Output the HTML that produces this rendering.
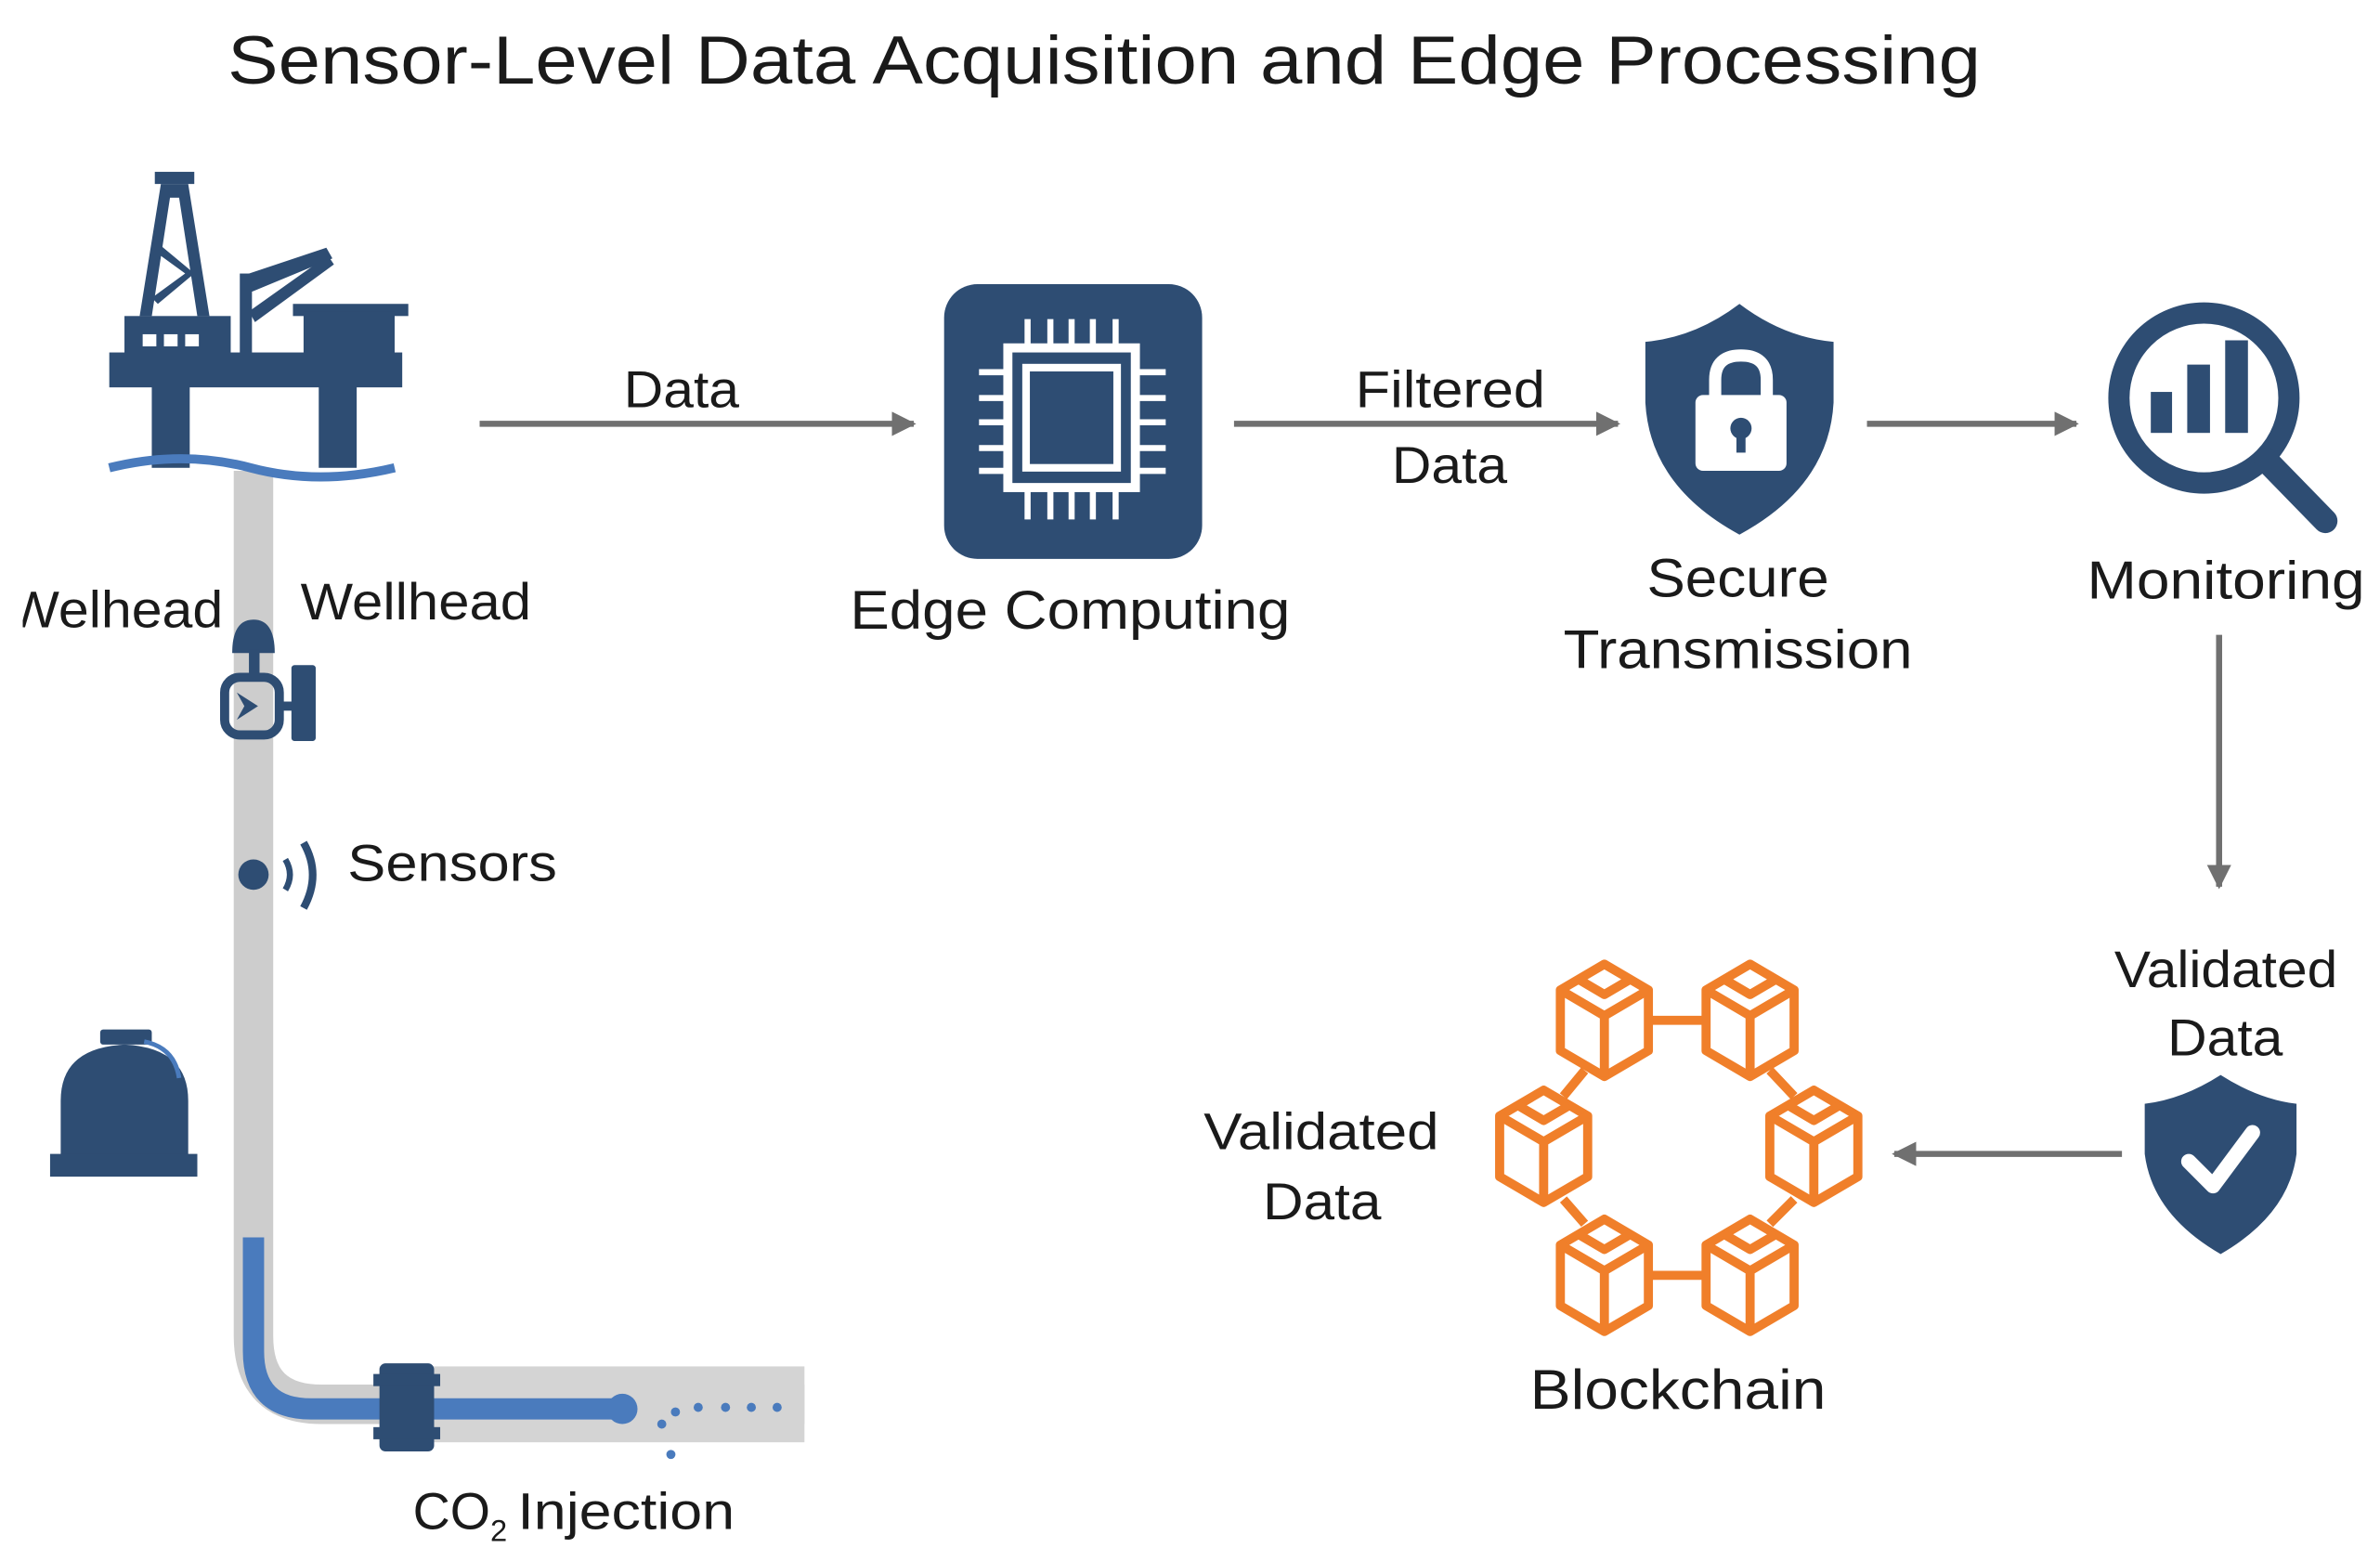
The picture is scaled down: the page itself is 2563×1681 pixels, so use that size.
<!DOCTYPE html>
<html><head><meta charset="utf-8"><style>
html,body{margin:0;padding:0;background:#fff;}
svg{display:block;}
text{font-family:"Liberation Sans",sans-serif;fill:#1a1a1a;}
</style></head><body>
<svg width="2563" height="1681" viewBox="0 0 1568 1028" xmlns="http://www.w3.org/2000/svg">
<defs>
<marker id="ah" viewBox="0 0 10 10" refX="9" refY="5" markerWidth="4" markerHeight="4" orient="auto"><path d="M0,0 L10,5 L0,10 Z" fill="#707070"/></marker>
<g id="cube" fill="none" stroke="#f07f2a" stroke-width="6" stroke-linejoin="round">
<path d="M0,-37 L29,-20 L29,20 L0,37 L-29,20 L-29,-20 Z"/>
<path d="M-29,-20 L0,-3 L29,-20 M0,-3 L0,37 M-17,-27 L0,-17 L17,-27"/>
</g>
<clipPath id="cl"><rect x="15" y="350" width="200" height="100"/></clipPath>
</defs>
<rect width="1568" height="1028" fill="#fff"/>
<text x="150" y="55" font-size="45" textLength="1155" lengthAdjust="spacingAndGlyphs">Sensor-Level Data Acquisition and Edge Processing</text>

<!-- pipe -->
<path d="M167,310 L167,880 Q167,925 212,925 L530,925" fill="none" stroke="#cdcdcd" stroke-width="26"/>
<rect x="250" y="900" width="280" height="50" fill="#d4d4d4"/>
<path d="M167,815 L167,890 Q167,928 205,928 L410,928" fill="none" stroke="#4a7bbd" stroke-width="14"/>
<circle cx="410" cy="928" r="10" fill="#4a7bbd"/>
<rect x="250" y="898" width="36" height="58" rx="4" fill="#2e4d73"/>
<rect x="246" y="905" width="44" height="8" fill="#2e4d73"/><rect x="246" y="940" width="44" height="8" fill="#2e4d73"/>
<g fill="#4a7bbd"><circle cx="460" cy="927" r="3"/><circle cx="478" cy="927" r="3"/><circle cx="495" cy="927" r="3"/><circle cx="512" cy="927" r="3"/><circle cx="445" cy="930" r="3"/><circle cx="436" cy="938" r="3"/><circle cx="442" cy="958" r="3"/></g>

<!-- rig -->
<g fill="#2e4d73">
<rect x="102" y="113" width="26" height="8"/>
<path d="M106,121 L124,121 L138,208 L130,208 L118,130 L112,130 L100,208 L92,208 Z"/>
<path d="M104,160 L128,180 L104,200 L100,196 L122,180 L100,164 Z"/>
<rect x="82" y="208" width="70" height="28"/>
<rect x="158" y="180" width="8" height="56"/>
<path d="M158,182 L215,163 L219,170 L166,192 Z"/>
<path d="M164,205 L216,168 L220,174 L168,212 Z"/>
<rect x="193" y="200" width="76" height="8"/>
<rect x="200" y="205" width="60" height="32"/>
<rect x="72" y="232" width="193" height="23"/>
<rect x="100" y="250" width="25" height="58"/>
<rect x="210" y="250" width="25" height="58"/>
</g>
<rect x="94" y="220" width="9" height="8" fill="#fff"/><rect x="108" y="220" width="9" height="8" fill="#fff"/><rect x="122" y="220" width="9" height="8" fill="#fff"/>
<path d="M72,308 Q120,296 165,308 T260,308" fill="none" stroke="#4a7bbd" stroke-width="6"/>

<text x="5" y="413" font-size="34" textLength="142" lengthAdjust="spacingAndGlyphs" clip-path="url(#cl)">Welhead</text>
<text x="198" y="408" font-size="34" textLength="152" lengthAdjust="spacingAndGlyphs">Wellhead</text>
<!-- valve -->
<g fill="#2e4d73">
<path d="M153,430 Q153,408 167,408 Q181,408 181,430 Z"/>
<rect x="164" y="428" width="7" height="20"/>
<rect x="148" y="446" width="36" height="38" rx="10" fill="none" stroke="#2e4d73" stroke-width="6"/>
<rect x="183" y="462" width="10" height="6"/>
<rect x="192" y="438" width="16" height="50" rx="2"/>
<path d="M156,456 L170,465 L156,474 L161,465 Z"/>
</g>
<!-- sensor -->
<circle cx="167" cy="576" r="10" fill="#2e4d73"/>
<path d="M188,566 Q194,576 188,586" fill="none" stroke="#2e4d73" stroke-width="4"/>
<path d="M200,555 Q212,576 200,598" fill="none" stroke="#2e4d73" stroke-width="5"/>
<text x="229" y="580" font-size="34" textLength="138" lengthAdjust="spacingAndGlyphs">Sensors</text>
<!-- tank -->
<g fill="#2e4d73">
<rect x="66" y="678" width="34" height="10" rx="2"/>
<path d="M40,765 L40,725 Q40,690 82,688 Q124,690 124,725 L124,765 Z"/>
<rect x="33" y="760" width="97" height="15"/>
</g>
<path d="M95,686 Q115,690 118,710" fill="none" stroke="#4a7bbd" stroke-width="3"/>
<text x="272" y="1007" font-size="34">CO<tspan font-size="20" dy="8">2</tspan><tspan dy="-8" x="341" textLength="143" lengthAdjust="spacingAndGlyphs">Injection</tspan></text>

<!-- arrows -->
<g stroke="#707070" stroke-width="4" fill="none" marker-end="url(#ah)">
<line x1="316" y1="279" x2="602" y2="279"/>
<line x1="813" y1="279" x2="1066" y2="279"/>
<line x1="1230" y1="279" x2="1368" y2="279"/>
<line x1="1462" y1="418" x2="1462" y2="584"/>
<line x1="1398" y1="760" x2="1248" y2="760"/>
</g>
<text x="411" y="268" font-size="34" textLength="76" lengthAdjust="spacingAndGlyphs">Data</text>
<text x="893" y="268" font-size="34" textLength="125" lengthAdjust="spacingAndGlyphs">Filtered</text>
<text x="917" y="318" font-size="34" textLength="76" lengthAdjust="spacingAndGlyphs">Data</text>

<!-- edge computing -->
<rect x="622" y="187" width="170" height="181" rx="22" fill="#2e4d73"/>
<g stroke="#fff" fill="none">
<rect x="664" y="229" width="84" height="92" stroke-width="6"/>
<rect x="676" y="242" width="60" height="66" stroke-width="5"/>
<path stroke-width="4" d="M677,210 V229 M692,210 V229 M706,210 V229 M720,210 V229 M735,210 V229 M677,321 V342 M692,321 V342 M706,321 V342 M720,321 V342 M735,321 V342 M645,245 H664 M645,262 H664 M645,278 H664 M645,295 H664 M645,310 H664 M748,245 H768 M748,262 H768 M748,278 H768 M748,295 H768 M748,310 H768"/>
</g>
<text x="560" y="414" font-size="36" textLength="290" lengthAdjust="spacingAndGlyphs">Edge Computing</text>

<!-- secure shield -->
<path d="M1146,200 Q1175,222 1208,225 L1208,265 Q1205,320 1146,352 Q1087,320 1084,265 L1084,225 Q1117,222 1146,200 Z" fill="#2e4d73"/>
<path d="M1130,262 V250 Q1130,234 1147,234 Q1164,234 1164,250 V262" fill="none" stroke="#fff" stroke-width="8"/>
<rect x="1117" y="260" width="60" height="50" rx="5" fill="#fff"/>
<circle cx="1147" cy="282" r="7" fill="#2e4d73"/><rect x="1144" y="284" width="6" height="14" fill="#2e4d73"/>
<text x="1085" y="393" font-size="36" textLength="120" lengthAdjust="spacingAndGlyphs">Secure</text>
<text x="1030" y="440" font-size="36" textLength="230" lengthAdjust="spacingAndGlyphs">Transmission</text>

<!-- monitoring -->
<circle cx="1452" cy="262" r="56" fill="none" stroke="#2e4d73" stroke-width="14"/>
<line x1="1493" y1="303" x2="1532" y2="343" stroke="#2e4d73" stroke-width="16" stroke-linecap="round"/>
<g fill="#2e4d73"><rect x="1417" y="258" width="14" height="27"/><rect x="1441" y="240" width="15" height="45"/><rect x="1466" y="224" width="15" height="61"/></g>
<text x="1375" y="394" font-size="35" textLength="183" lengthAdjust="spacingAndGlyphs">Monitoring</text>

<text x="1393" y="650" font-size="34" textLength="147" lengthAdjust="spacingAndGlyphs">Validated</text>
<text x="1428" y="695" font-size="34" textLength="76" lengthAdjust="spacingAndGlyphs">Data</text>
<path d="M1463,708 Q1488,724 1513,727 L1513,760 Q1508,800 1463,826 Q1418,800 1413,760 L1413,727 Q1438,724 1463,708 Z" fill="#2e4d73"/>
<path d="M1442,765 L1458,781 L1484,746" fill="none" stroke="#fff" stroke-width="10" stroke-linecap="round" stroke-linejoin="round"/>

<!-- blockchain -->
<g stroke="#f07f2a" stroke-width="6" fill="none">
<line x1="1086" y1="672" x2="1124" y2="672"/>
<line x1="1086" y1="840" x2="1124" y2="840"/>
<line x1="1044" y1="705" x2="1030" y2="722"/>
<line x1="1166" y1="705" x2="1182" y2="722"/>
<line x1="1030" y1="790" x2="1044" y2="806"/>
<line x1="1182" y1="790" x2="1166" y2="806"/>
</g>
<use href="#cube" x="1057" y="672"/>
<use href="#cube" x="1153" y="672"/>
<use href="#cube" x="1017" y="755"/>
<use href="#cube" x="1195" y="755"/>
<use href="#cube" x="1057" y="840"/>
<use href="#cube" x="1153" y="840"/>
<text x="793" y="757" font-size="34" textLength="155" lengthAdjust="spacingAndGlyphs">Validated</text>
<text x="832" y="803" font-size="34" textLength="78" lengthAdjust="spacingAndGlyphs">Data</text>
<text x="1008" y="928" font-size="37" textLength="195" lengthAdjust="spacingAndGlyphs">Blockchain</text>
</svg>
</body></html>
